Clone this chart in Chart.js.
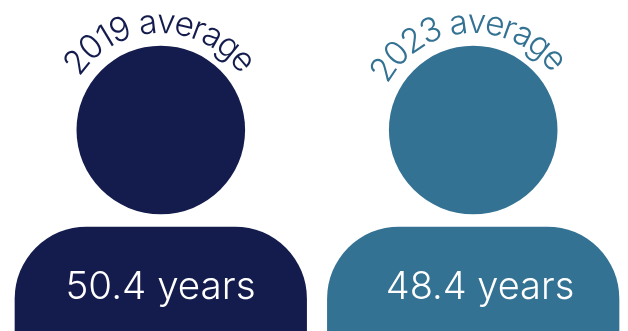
<!DOCTYPE html>
<html>
<head>
<meta charset="utf-8">
<style>
    html, body { margin: 0; padding: 0; background: #fff; width: 628px; height: 331px; overflow: hidden; }
</style>
</head>
<body>
<canvas id="ageChart" width="640" height="420"></canvas>
<script src="https://cdn.jsdelivr.net/npm/chart.js@4"></script>
<script>
// Average age per year
const years = ["2019", "2023"];
const averageAge = [50.4, 48.4];
const arcTitles = ["2019 average", "2023 average"];
const ageLabels = ["50.4 years", "48.4 years"];
// Head centre height on the pictogram scale (0 to 420)
const headHeight = [290, 290];

const colors = ["#141c4d", "#347293"];
const bodyShare = 0.4596; // part of the canvas height taken by a body
const arcMiddle = [-0.8, -3.8]; // degrees from the top of each head
const labelShift = [-0.3, 6.8];

// Text bent round each head, then the age written on each body
const iconText = {
    id: "iconText",
    afterDatasetsDraw(chart) {
        const ctx = chart.ctx;
        const heads = chart.getDatasetMeta(2).data;
        heads.forEach((head, i) => {
            ctx.save();
            ctx.font = "300 33.5px Inter";
            ctx.fillStyle = colors[i];
            ctx.textAlign = "center";
            ctx.textBaseline = "alphabetic";
            const text = arcTitles[i];
            const radius = 97;
            const total = ctx.measureText(text).width;
            const middle = arcMiddle[i] * Math.PI / 180;
            const squeeze = 0.9; // letters sit closer together than the font sets them
            for (let c = 0; c < text.length; c++) {
                const before = ctx.measureText(text.slice(0, c)).width;
                const w = ctx.measureText(text[c]).width;
                const angle = middle + squeeze * (before + w / 2 - total / 2) / radius;
                ctx.save();
                ctx.translate(head.x + radius * Math.sin(angle), head.y - radius * Math.cos(angle));
                ctx.rotate(angle);
                ctx.fillText(text[c], 0, 0);
                ctx.restore();
            }
            ctx.font = i === 1 ? "300 38px Inter" : "300 38.6px Inter";
            ctx.fillStyle = "#ffffff";
            ctx.fillText(ageLabels[i], head.x + labelShift[i], 299);
            ctx.restore();
        });
    },
};

new Chart(document.getElementById("ageChart"), {
    type: "bar",
    data: {
        labels: years,
        datasets: [
            {
                label: years[0],
                data: [averageAge[0], null],
                yAxisID: "y2019",
                backgroundColor: colors[0],
            },
            {
                label: years[1],
                data: [null, averageAge[1]],
                yAxisID: "y2023",
                backgroundColor: colors[1],
            },
            {
                type: "line",
                label: "head",
                data: headHeight,
                yAxisID: "yHead",
                clip: false,
                showLine: false,
                pointRadius: 84.3,
                pointBorderWidth: 0,
                pointBackgroundColor: colors,
            },
        ],
    },
    options: {
        responsive: false,
        animation: false,
        events: [],
        layout: { autoPadding: false, padding: { left: 4.6, right: 10.6, top: 0, bottom: 0 } },
        datasets: {
            bar: {
                grouped: false,
                barThickness: 291.6,
                borderRadius: { topLeft: 72, topRight: 72 },
            },
        },
        scales: {
            x: { display: false },
            y2019: { display: false, min: 0, max: averageAge[0] / bodyShare },
            y2023: { display: false, min: 0, max: averageAge[1] / bodyShare },
            yHead: { display: false, min: 0, max: 420 },
        },
        plugins: {
            legend: { display: false },
            tooltip: { enabled: false },
        },
    },
    plugins: [iconText],
});
</script>
</body>
</html>
